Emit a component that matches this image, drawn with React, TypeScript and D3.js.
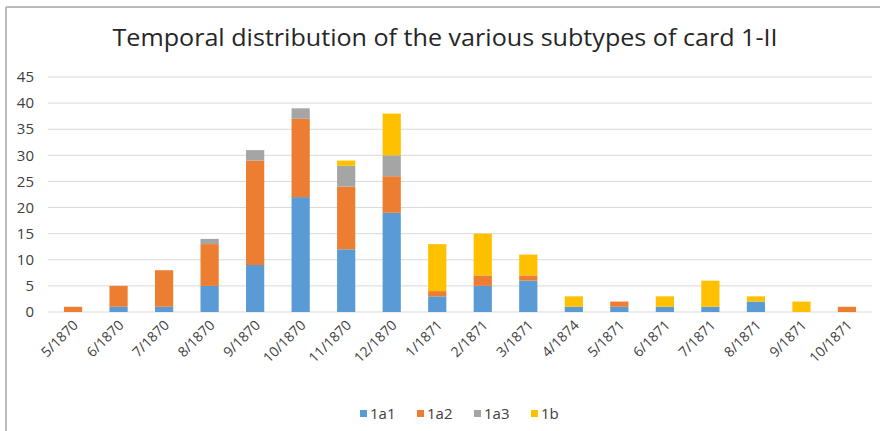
import React from "react";
import * as d3 from "d3";

const months = [
  "5/1870", "6/1870", "7/1870", "8/1870", "9/1870", "10/1870", "11/1870", "12/1870",
  "1/1871", "2/1871", "3/1871", "4/1874", "5/1871", "6/1871", "7/1871", "8/1871",
  "9/1871", "10/1871",
];
const s1a1 = [0, 1, 1, 5, 9, 22, 12, 19, 3, 5, 6, 1, 1, 1, 1, 2, 0, 0];
const s1a2 = [1, 4, 7, 8, 20, 15, 12, 7, 1, 2, 1, 0, 1, 0, 0, 0, 0, 1];
const s1a3 = [0, 0, 0, 1, 2, 2, 4, 4, 0, 0, 0, 0, 0, 0, 0, 0, 0, 0];
const s1b = [0, 0, 0, 0, 0, 0, 1, 8, 9, 8, 4, 2, 0, 2, 5, 1, 2, 0];
const seriesNames = ["1a1", "1a2", "1a3", "1b"];
const seriesColors = ["#5B9BD5", "#ED7D31", "#A5A5A5", "#FFC000"];
const yTicks = [0, 5, 10, 15, 20, 25, 30, 35, 40, 45];

const W = 880;
const H = 431;
const left = 48;
const right = 872;
const top = 77;
const bottom = 312;
const font = "Open Sans, sans-serif";

export default function App() {
  const rows = months.map((m, i) => ({
    month: m,
    "1a1": s1a1[i],
    "1a2": s1a2[i],
    "1a3": s1a3[i],
    "1b": s1b[i],
  }));
  const stacked = d3.stack<any>().keys(seriesNames)(rows);
  const x = d3
    .scaleBand()
    .domain(months)
    .range([left, right])
    .paddingInner(0.6)
    .paddingOuter(0.35);
  const y = d3.scaleLinear().domain([0, 45]).range([bottom, top]);

  return (
    <svg
      width={W}
      height={H}
      style={{ position: "absolute", left: 0, top: 0, background: "#fff" }}
    >
      <line x1={6} y1={7} x2={W} y2={7} stroke="#a6a6a6" strokeWidth={1.5} />
      <line x1={6} y1={7} x2={6} y2={H} stroke="#a6a6a6" strokeWidth={1.5} />
      <text
        x={445}
        y={46}
        textAnchor="middle"
        fontFamily={font}
        fontSize={23}
        fill="#262626"
        textLength={665}
        lengthAdjust="spacingAndGlyphs"
      >
        Temporal distribution of the various subtypes of card 1-II
      </text>
      {yTicks.map((t) => (
        <g key={t}>
          <line x1={left} x2={right} y1={y(t)} y2={y(t)} stroke="#d9d9d9" strokeWidth={1} />
          <text
            x={34}
            y={y(t)}
            dy="0.35em"
            textAnchor="end"
            fontFamily={font}
            fontSize={15}
            fill="#404040"
          >
            {t}
          </text>
        </g>
      ))}
      {stacked.map((layer, si) => (
        <g key={layer.key} fill={seriesColors[si]}>
          {layer.map((d, i) =>
            d[1] - d[0] > 0 ? (
              <rect
                key={i}
                x={x(months[i])}
                y={y(d[1])}
                width={x.bandwidth()}
                height={y(d[0]) - y(d[1])}
              />
            ) : null
          )}
        </g>
      ))}
      {months.map((m) => {
        const cx = (x(m) as number) + x.bandwidth() / 2 + 6;
        return (
          <text
            key={m}
            transform={`translate(${cx},326) rotate(-45)`}
            textAnchor="end"
            fontFamily={font}
            fontSize={14}
            fill="#404040"
          >
            {m}
          </text>
        );
      })}
      {seriesNames.map((n, i) => {
        const lx = 360 + i * 57;
        return (
          <g key={n}>
            <rect x={lx} y={410} width={7} height={7} fill={seriesColors[i]} />
            <text
              x={lx + 10}
              y={414}
              dy="0.35em"
              fontFamily={font}
              fontSize={15}
              fill="#404040"
            >
              {n}
            </text>
          </g>
        );
      })}
    </svg>
  );
}
